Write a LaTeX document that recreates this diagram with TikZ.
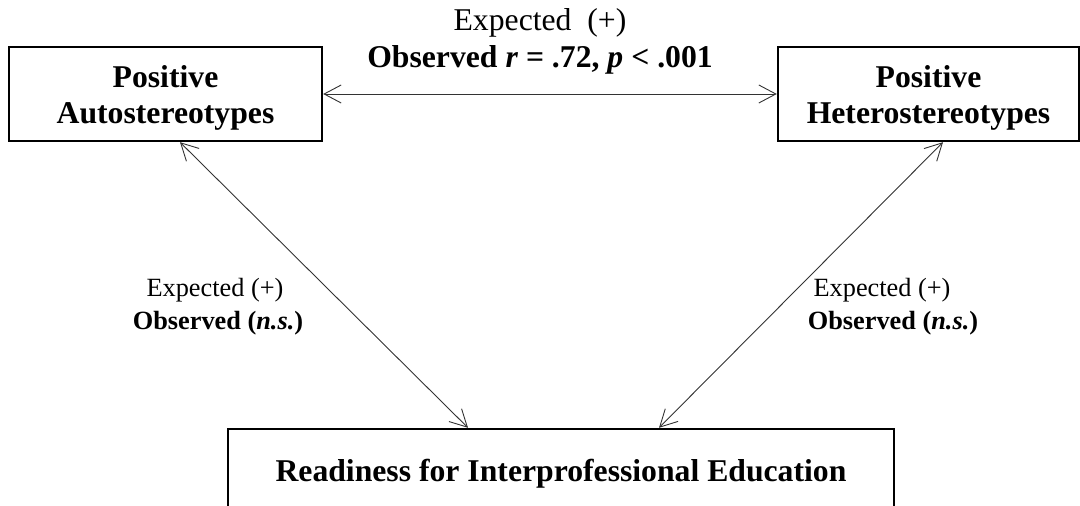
\documentclass[tikz,border=0pt]{standalone}
\usepackage{fontspec}
\setmainfont{Liberation Serif}
\usetikzlibrary{arrows.meta}
\newcommand{\boxtext}[2]{\raisebox{#1}[\height][\depth]{\begin{tabular}{@{}c@{}}#2\end{tabular}}}
\begin{document}
\begin{tikzpicture}[x=0.5pt,y=-0.5pt,
  box/.style={draw=black,line width=1.2pt,inner sep=0pt,align=center,
    font=\fontsize{15.85}{18}\selectfont\bfseries},
  conn/.style={draw=black!80,line width=0.45pt,
    {Straight Barb[length=8.5pt,width=9pt]}-{Straight Barb[length=8.5pt,width=9pt]}},
  biglab/.style={anchor=base,inner sep=0pt,font=\fontsize{15.85}{18}\selectfont},
  smalllab/.style={anchor=base,inner sep=0pt,font=\fontsize{13.15}{16}\selectfont}]
\useasboundingbox (0,0) rectangle (1080,506);
\clip (0,0) rectangle (1080,506);
\node[box,minimum width=313*0.5pt,minimum height=94*0.5pt] (L) at (165.5,94) {\boxtext{-2pt}{Positive\\Autostereotypes}};
\node[box,minimum width=301*0.5pt,minimum height=94*0.5pt] (R) at (928.5,94) {\boxtext{-2pt}{Positive\\Heterostereotypes}};
\node[box,minimum width=666*0.5pt,minimum height=86*0.5pt] (B) at (561,472) {\boxtext{-1pt}{Readiness for Interprofessional Education}};
\draw[conn] (L.east) -- (R.west);
\draw[conn] ([xshift=7.25pt]L.south) -- ([xshift=-46.5pt]B.north);
\draw[conn] ([xshift=7.25pt]R.south) -- ([xshift=49pt]B.north);
\node[biglab] (t1) at (540,31) {Expected\ \ (+)};
\node[biglab] (t2) at (540,68) {\bfseries Observed \textit{r} = .72, \textit{p} < .001};
\node[smalllab] (l1) at (215,297) {Expected (+)};
\node[smalllab] (l2) at (218,330) {\bfseries Observed (\textit{n.s.})};
\node[smalllab] (r1) at (882,297) {Expected (+)};
\node[smalllab] (r2) at (893,330) {\bfseries Observed (\textit{n.s.})};
\end{tikzpicture}
\end{document}
